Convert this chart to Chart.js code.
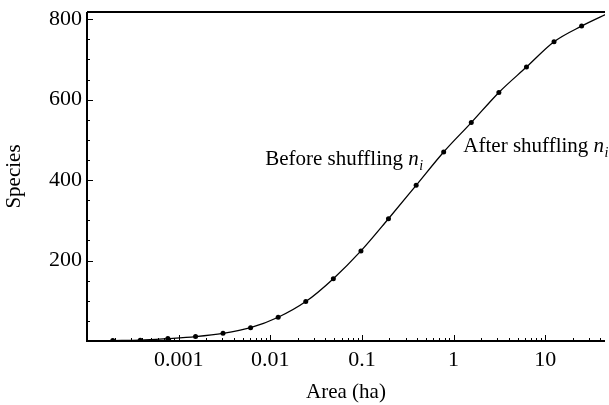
<!DOCTYPE html>
<html>
<head>
<meta charset="utf-8">
<script src="https://cdn.jsdelivr.net/npm/chart.js@4.4.1/dist/chart.umd.min.js"></script>
<style>
  html, body { margin: 0; padding: 0; background: #fff; }
</style>
</head>
<body>
<canvas id="chart" width="609" height="405"></canvas>
<script>
// sampled plot areas (ha), halving from the full 50 ha plot
const areas = [0.000191, 0.000381, 0.000763, 0.00153, 0.00305, 0.0061, 0.0122, 0.0244, 0.0488,
               0.0977, 0.195, 0.391, 0.781, 1.5625, 3.125, 6.25, 12.5, 25, 50];
const species = [1, 2, 6, 11, 19, 33, 59, 98, 155, 224, 304, 387, 470, 543, 618, 681, 744, 783, 816];

const xTickValues = [0.001, 0.01, 0.1, 1, 10];
const yTickValues = [200, 400, 600, 800];

// labels placed in data units (area, species at text baseline)
const notes = [
  { text: "Before shuffling ", x: 0.46, y: 437, align: "right" },
  { text: "After shuffling ", x: 1.28, y: 471, align: "left" }
];

const serif = '"Liberation Serif", "DejaVu Serif", serif';

function drawNote(ctx, note, px, py) {
  ctx.font = "21px " + serif;
  let w1 = ctx.measureText(note.text).width;
  ctx.font = "italic 21px " + serif;
  let w2 = ctx.measureText("n").width;
  ctx.font = "italic 14px " + serif;
  let w3 = ctx.measureText("i").width;
  let x = note.align === "right" ? px - (w1 + w2 + w3) : px;
  ctx.textAlign = "left";
  ctx.textBaseline = "alphabetic";
  ctx.fillStyle = "#000";
  ctx.font = "21px " + serif;
  ctx.fillText(note.text, x, py);
  ctx.font = "italic 21px " + serif;
  ctx.fillText("n", x + w1, py);
  ctx.font = "italic 14px " + serif;
  ctx.fillText("i", x + w1 + w2 + 0.5, py + 5);
}

// frame, inward ticks and the two text labels
const framePlugin = {
  id: "frame",
  afterDraw(chart) {
    const ctx = chart.ctx;
    const a = chart.chartArea;
    const xs = chart.scales.x, ys = chart.scales.y;
    ctx.save();
    ctx.strokeStyle = "#000";
    ctx.lineWidth = 2;
    ctx.beginPath();
    ctx.moveTo(a.left, a.top);
    ctx.lineTo(a.left, a.bottom);
    ctx.lineTo(a.right, a.bottom);
    ctx.moveTo(a.left, a.top);
    ctx.lineTo(a.right, a.top);
    ctx.stroke();

    ctx.lineWidth = 1;
    ctx.beginPath();
    for (let d = -4; d <= 1; d++) {
      for (let m = 1; m <= 9; m++) {
        let v = m * Math.pow(10, d);
        if (v <= xs.min || v >= xs.max) continue;
        let px = Math.round(xs.getPixelForValue(v)) + 0.5;
        let len = m === 1 ? 6 : 3;
        ctx.moveTo(px, a.bottom);
        ctx.lineTo(px, a.bottom - len);
      }
    }
    for (let v = 50; v < ys.max; v += 50) {
      let py = Math.round(ys.getPixelForValue(v)) + 0.5;
      let len = v % 200 === 0 ? 6 : 3;
      ctx.moveTo(a.left, py);
      ctx.lineTo(a.left + len, py);
    }
    ctx.stroke();

    notes.forEach(n => drawNote(ctx, n, xs.getPixelForValue(n.x), ys.getPixelForValue(n.y)));
    ctx.restore();
  }
};

const points = areas.map((a, i) => ({ x: a, y: species[i] }));

new Chart(document.getElementById("chart").getContext("2d"), {
  type: "line",
  data: {
    datasets: [{
      label: "Species",
      data: points,
      borderColor: "#000",
      backgroundColor: "#000",
      borderWidth: 1.3,
      pointRadius: 2.5,
      pointBorderWidth: 0,
      cubicInterpolationMode: "monotone",
      fill: false
    }]
  },
  options: {
    responsive: false,
    animation: false,
    layout: { padding: { top: 12, right: 0, left: 0, bottom: 0 } },
    plugins: { legend: { display: false }, tooltip: { enabled: false } },
    scales: {
      x: {
        type: "logarithmic",
        min: 0.0001,
        max: 45,
        grid: { display: false, drawTicks: false },
        border: { display: false },
        afterBuildTicks: s => { s.ticks = xTickValues.map(v => ({ value: v })); },
        afterFit: s => { s.height = 64; },
        ticks: {
          padding: 6,
          color: "#000",
          font: { family: serif, size: 22 },
          maxRotation: 0,
          autoSkip: false,
          callback: v => String(v)
        },
        title: {
          display: true,
          text: "Area (ha)",
          color: "#000",
          font: { family: serif, size: 21 },
          padding: { top: 0, bottom: 0 }
        }
      },
      y: {
        min: 0,
        max: 818,
        grid: { display: false, drawTicks: false },
        border: { display: false },
        afterBuildTicks: s => { s.ticks = yTickValues.map(v => ({ value: v })); },
        afterFit: s => { s.width = 87; s.paddingTop = 0; s.paddingBottom = 0; },
        ticks: {
          padding: 5,
          color: "#000",
          font: { family: serif, size: 22 }
        },
        title: {
          display: true,
          text: "Species",
          color: "#000",
          font: { family: serif, size: 21 },
          padding: { top: 2, bottom: 0 }
        }
      }
    }
  },
  plugins: [framePlugin]
});
</script>
</body>
</html>
